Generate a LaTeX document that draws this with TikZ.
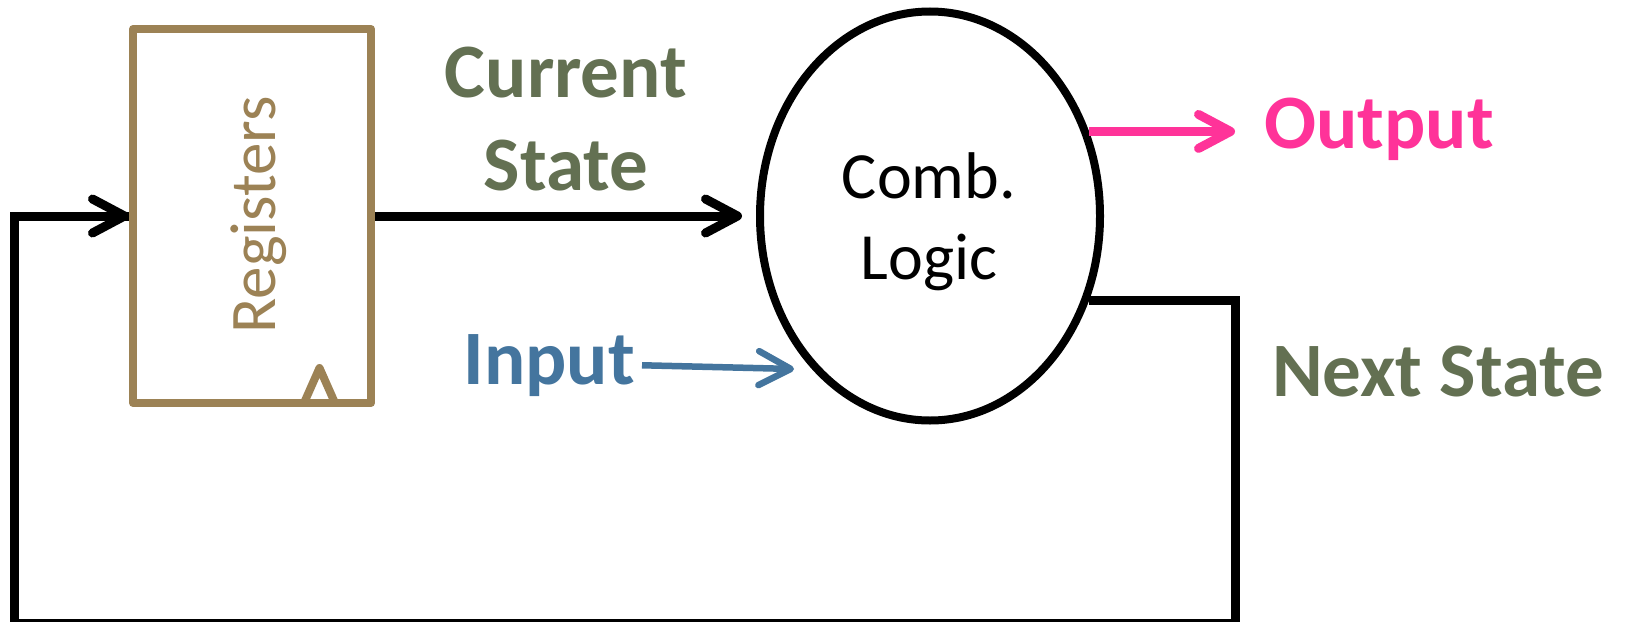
\documentclass[tikz,border=0pt]{standalone}
\usepackage{fontspec}
\setmainfont{Carlito}
\usetikzlibrary{arrows.meta,shapes.geometric,calc}
\definecolor{tanc}{HTML}{9C8255}
\definecolor{greenc}{HTML}{637052}
\definecolor{bluec}{HTML}{44759E}
\definecolor{pinkc}{HTML}{FF3399}
\tikzset{
  wire/.style={line width=9pt, line join=miter},
  barb/.style={-{Straight Barb[length=32pt,width=34pt,line cap=round,line join=round]}},
  regbox/.style={draw=tanc, line width=8pt, line join=round, rectangle, inner sep=0pt, minimum width=238pt, minimum height=374pt},
  logic/.style={draw=black, line width=8pt, ellipse, inner sep=0pt, minimum width=340pt, minimum height=409pt},
  lbl/.style={inner sep=0pt, font=\bfseries\fontsize{77}{93}\selectfont},
}
\begin{document}
\begin{tikzpicture}[x=1pt,y=-1pt]
\useasboundingbox[fill=white] (0,0) rectangle (1629,621);
% registers
\node[regbox] (reg) at (252,216) {};
\draw[draw=tanc, line width=8pt, line join=round] (304,403) -- (319.5,368) -- (335,403);
\node[rotate=90, anchor=base, inner sep=0pt, text=tanc, font=\fontsize{65}{78}\selectfont] (regtxt) at (275.5,215) {Registers};
% combinational logic
\node[logic] (cl) at (930,216) {};
\node[align=center, inner sep=0pt, font=\fontsize{66}{81}\selectfont] (cltxt) at (929,222) {Comb.\\Logic};
% labels
\node[lbl, text=greenc, align=center] (cs) at (566,119) {Current\\State};
\node[lbl, text=pinkc, anchor=base west] (out) at (1264,148.5) {Output};
\node[lbl, text=greenc, anchor=base west] (ns) at (1272,396) {Next State};
\node[lbl, text=bluec, anchor=base east] (inp) at (635,384) {Input};
% coordinates
\coordinate (outtip) at (1235,131);
\coordinate (nsx) at (1235,301);
\coordinate (fbr) at (1235,623.5);
\coordinate (fbl) at (14,623.5);
\coordinate (inend) at (794,369);
% current state arrow
\draw[wire, barb, shorten >=14pt] (reg.east) -- (cl.west);
% output arrow
\draw[wire, pinkc, barb] (cl.28.7) -- (cl.28.7 -| outtip);
% input arrow
\draw[line width=6.5pt, bluec, barb, shorten <=7pt] (inp.east) -- (inend);
% feedback loop
\draw[wire] (cl.-28.7) -- (cl.-28.7 -| nsx) -- (fbr) -- (fbl) |- (reg.west);
\draw[wire, barb] (reg.west -| fbl) -- (reg.west);
\end{tikzpicture}
\end{document}
